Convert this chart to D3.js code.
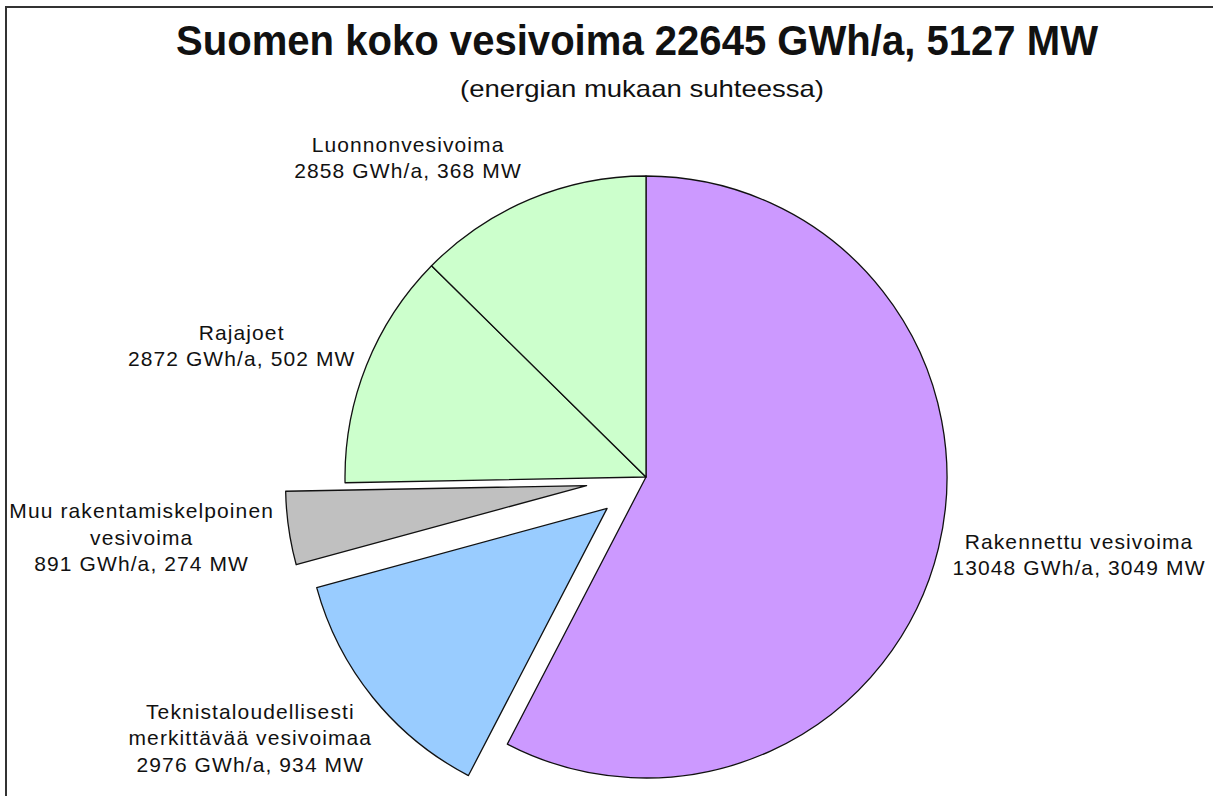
<!DOCTYPE html>
<html>
<head>
<meta charset="utf-8">
<script src="https://cdn.jsdelivr.net/npm/d3@7"></script>
<style>
  body { margin: 0; background: #fff; }
  text { font-family: "Liberation Sans", Arial, sans-serif; fill: #111; }
</style>
</head>
<body>
<div id="chart-area"></div>
<script>
const chartSize = { width: 1213, height: 796 };
const pieCenter = { x: 646, y: 477 };
const radius = 301;

// data, in the order Excel draws the slices (clockwise from 12 o'clock)
const names = ["Rakennettu vesivoima", "Teknistaloudellisesti merkittävää vesivoimaa", "Muu rakentamiskelpoinen vesivoima", "Rajajoet", "Luonnonvesivoima"];
const energy = [13048, 2976, 891, 2872, 2858];
const power = [3049, 934, 274, 502, 368];
const labelLines = [
    ["Rakennettu vesivoima"],
    ["Teknistaloudellisesti", "merkittävää vesivoimaa"],
    ["Muu rakentamiskelpoinen", "vesivoima"],
    ["Rajajoet"],
    ["Luonnonvesivoima"]
];
const colors = ["#cc99ff", "#99ccff", "#c0c0c0", "#ccffcc", "#ccffcc"];

// exploded distance and label placement (angle nudge in degrees, distance from centre)
const explode = [0, 50, 60, 0, 0];
const labelLayout = [
    { nudge: -3.5, dist: 440 },
    { nudge: 5.5, dist: 474 },
    { nudge: 1.3, dist: 508 },
    { nudge: -3.8, dist: 425 },
    { nudge: -14, dist: 398 }
];

const titleText = "Suomen koko vesivoima 22645 GWh/a, 5127 MW";
const subtitleText = "(energian mukaan suhteessa)";

const fmt = (e, p) => `${e} GWh/a, ${p} MW`;
const polar = (a, r) => [Math.sin(a) * r, -Math.cos(a) * r];

const main = () => {
    const svg = d3.select("#chart-area")
        .append("svg")
        .attr("width", chartSize.width)
        .attr("height", chartSize.height);

    svg.append("rect")
        .attr("x", 0).attr("y", 0)
        .attr("width", chartSize.width).attr("height", chartSize.height)
        .attr("fill", "#fff");

    // frame (open on right and bottom like the crop)
    svg.append("path")
        .attr("d", `M6,${chartSize.height + 5}V7H${chartSize.width + 5}`)
        .attr("fill", "none")
        .attr("stroke", "#333")
        .attr("stroke-width", 2);

    svg.append("text")
        .attr("x", 637).attr("y", 55)
        .attr("text-anchor", "middle")
        .attr("font-size", 42)
        .attr("font-weight", "bold")
        .attr("textLength", 922)
        .attr("lengthAdjust", "spacingAndGlyphs")
        .text(titleText);

    svg.append("text")
        .attr("x", 642).attr("y", 97)
        .attr("text-anchor", "middle")
        .attr("font-size", 24)
        .attr("textLength", 364)
        .attr("lengthAdjust", "spacingAndGlyphs")
        .text(subtitleText);

    const rows = names.map((n, i) => ({ name: n, energy: energy[i], power: power[i], i }));
    const pie = d3.pie().sort(null).value(d => d.energy).startAngle(0).endAngle(2 * Math.PI);
    const arc = d3.arc().innerRadius(0).outerRadius(radius);
    const arcs = pie(rows);

    const g = svg.append("g")
        .attr("transform", `translate(${pieCenter.x},${pieCenter.y})`);

    g.selectAll("path.slice")
        .data(arcs)
        .join("path")
        .attr("class", "slice")
        .attr("transform", d => {
            const mid = (d.startAngle + d.endAngle) / 2;
            const [dx, dy] = polar(mid, explode[d.data.i]);
            return `translate(${dx},${dy})`;
        })
        .attr("d", arc)
        .attr("fill", d => colors[d.data.i])
        .attr("stroke", "#111")
        .attr("stroke-width", 1.3)
        .attr("stroke-linejoin", "round");

    const lineH = 26.5;
    g.selectAll("text.label")
        .data(arcs)
        .join("text")
        .attr("class", "label")
        .attr("text-anchor", "middle")
        .attr("font-size", 21)
        .attr("letter-spacing", 1.1)
        .each(function(d) {
            const i = d.data.i;
            const mid = (d.startAngle + d.endAngle) / 2 + labelLayout[i].nudge * Math.PI / 180;
            const [cx, cy] = polar(mid, labelLayout[i].dist);
            const lines = labelLines[i].concat([fmt(d.data.energy, d.data.power)]);
            const top = cy - (lines.length - 1) * lineH / 2 + 7;
            d3.select(this).selectAll("tspan")
                .data(lines)
                .join("tspan")
                .attr("x", cx)
                .attr("y", (l, k) => top + k * lineH)
                .text(l => l);
        });
};
window.onload = main;
</script>
</body>
</html>
